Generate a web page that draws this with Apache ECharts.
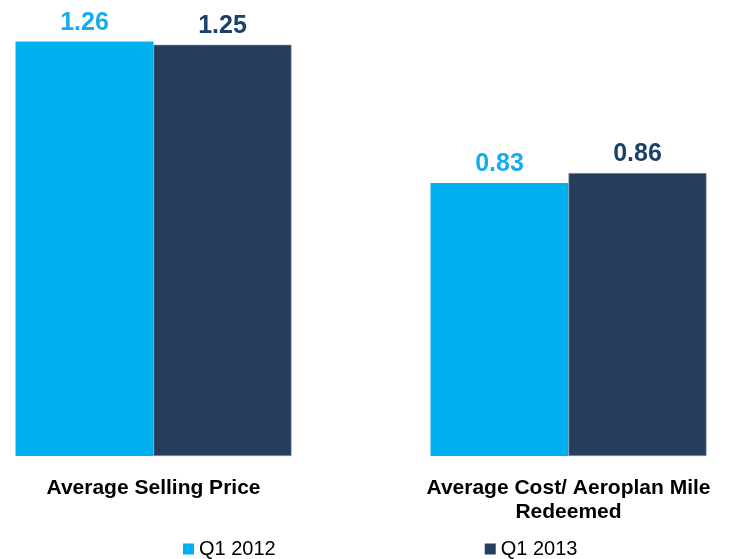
<!DOCTYPE html>
<html>
<head>
<meta charset="utf-8">
<script src="https://cdn.jsdelivr.net/npm/echarts@6/dist/echarts.min.js"></script>
<style>
  html, body { margin: 0; padding: 0; background: #fff; }
  #frame { width: 733px; height: 559px; overflow: hidden; position: relative; }
  /* plot canvas is wider than the frame so the outer bar margins stay narrow */
  #chart { position: absolute; left: -54px; top: 0; width: 830px; height: 559px; }
</style>
</head>
<body>
<div id="frame"><div id="chart"></div></div>
<script>
// Average price vs. average cost per Aeroplan mile, Q1 2012 vs Q1 2013
const categories = ['Average Selling Price', 'Average Cost/ Aeroplan Mile\nRedeemed'];
const seriesNames = ['Q1 2012', 'Q1 2013'];
const q1_2012 = [1.26, 0.83];
const q1_2013 = [1.25, 0.86];

const FONT = '"Liberation Sans", Arial, sans-serif';
const barColors = ['#00B0F0', '#263E5E'];
const labelColors = ['#16ADEC', '#1A416A'];
const SHIFT = 54; // horizontal offset of the canvas inside the frame

const chart = echarts.init(document.getElementById('chart'), null, { renderer: 'canvas' });

function barSeries(idx, values) {
  return {
    name: seriesNames[idx],
    type: 'bar',
    data: values,
    barWidth: 138,
    barGap: '0%',
    itemStyle: {
      color: barColors[idx],
      borderColor: idx === 1 ? '#8e9bb0' : barColors[idx],
      borderWidth: idx === 1 ? 0.6 : 0
    },
    label: {
      show: true,
      position: 'top',
      distance: 6,
      formatter: p => p.value.toFixed(2),
      color: labelColors[idx],
      fontFamily: FONT,
      fontWeight: 'bold',
      fontSize: 25
    }
  };
}

chart.setOption({
  animation: false,
  backgroundColor: '#ffffff',
  grid: { left: 0, right: 0, top: 0, bottom: 103, containLabel: false },
  xAxis: {
    type: 'category',
    data: categories,
    axisLine: { show: false },
    axisTick: { show: false },
    axisLabel: {
      margin: 20,
      interval: 0,
      color: '#000000',
      fontFamily: FONT,
      fontWeight: 'bold',
      fontSize: 21,
      lineHeight: 24
    }
  },
  yAxis: {
    type: 'value',
    min: 0,
    max: 1.386,
    show: false,
    splitLine: { show: false }
  },
  legend: {
    data: seriesNames,
    left: 183 + SHIFT,
    top: 539,
    padding: 0,
    icon: 'rect',
    itemWidth: 11,
    itemHeight: 11,
    itemGap: 209,
    itemStyle: { borderWidth: 0 },
    textStyle: { fontFamily: FONT, fontSize: 20, color: '#000000', padding: [0, 0, 0, 0] }
  },
  series: [barSeries(0, q1_2012), barSeries(1, q1_2013)]
});
</script>
</body>
</html>
